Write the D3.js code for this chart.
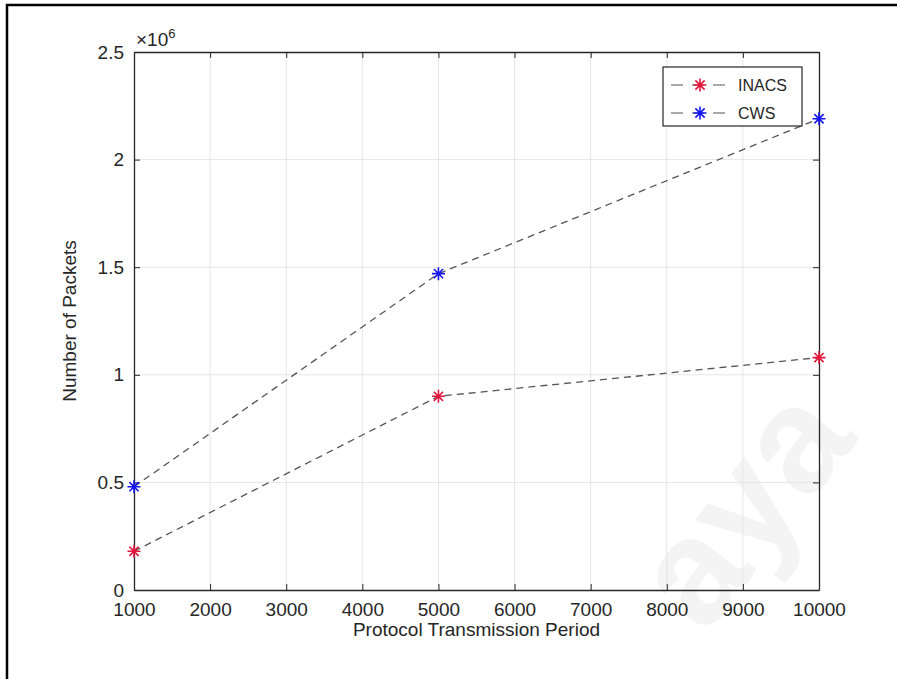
<!DOCTYPE html>
<html>
<head>
<meta charset="utf-8">
<script src="https://cdn.jsdelivr.net/npm/d3@7"></script>
<style>
	body { margin: 0; background: #fff; }
	text { font-family: "Liberation Sans", Arial, sans-serif; fill: #262626; }
</style>
</head>
<body>
<div id="chart"></div>
<script>
"use strict";

// values
var periods = [1000, 5000, 10000];
var inacsPackets = [0.18e6, 0.90e6, 1.08e6];
var cwsPackets = [0.48e6, 1.47e6, 2.19e6];
var seriesNames = ["INACS", "CWS"];
var xTickValues = [1000, 2000, 3000, 4000, 5000, 6000, 7000, 8000, 9000, 10000];
var yTickValues = [0, 0.5e6, 1e6, 1.5e6, 2e6, 2.5e6];

var series = [
	{ id: seriesNames[0], values: inacsPackets, color: "#e3173e" },
	{ id: seriesNames[1], values: cwsPackets, color: "#1414f0" }
];

var svg = d3.select("#chart").append("svg")
	.attr("width", 897).attr("height", 679);

// faint watermark in the lower right, as in the scan
svg.append("text")
	.attr("transform", "translate(705,636) rotate(-52)")
	.style("font-size", "150px")
	.style("font-weight", "bold")
	.style("fill", "#f4f4f4")
	.text("aya");

// frame around the figure
svg.append("path")
	.attr("d", "M7,679V5H897")
	.attr("fill", "none")
	.attr("stroke", "#000")
	.attr("stroke-width", 2.5);

var margin = {top: 52, right: 78, bottom: 89, left: 134},
	width = 897 - margin.left - margin.right,
	height = 679 - margin.top - margin.bottom,
	g = svg.append("g").attr("transform", "translate(" + margin.left + "," + margin.top + ")");

var x = d3.scaleLinear().domain([1000, 10000]).range([0, width]),
	y = d3.scaleLinear().domain([0, 2.5e6]).range([height, 0]);

// grid
g.append("g").selectAll("line")
	.data(xTickValues.slice(1, -1))
	.enter().append("line")
	.attr("x1", function(d) { return x(d); }).attr("x2", function(d) { return x(d); })
	.attr("y1", 0).attr("y2", height)
	.attr("stroke", "#e6e6e6");

g.append("g").selectAll("line")
	.data(yTickValues.slice(1, -1))
	.enter().append("line")
	.attr("y1", function(d) { return y(d); }).attr("y2", function(d) { return y(d); })
	.attr("x1", 0).attr("x2", width)
	.attr("stroke", "#e6e6e6");

var fmtY = function(d) { return d3.format("~g")(d / 1e6); };

// axes, ticks pointing inward like matlab
g.append("g")
	.attr("class", "axis axis--x")
	.attr("transform", "translate(0," + height + ")")
	.call(d3.axisBottom(x).tickValues(xTickValues).tickSizeInner(-6).tickSizeOuter(0).tickPadding(13).tickFormat(d3.format("d")));

g.append("g")
	.attr("class", "axis axis--x2")
	.call(d3.axisTop(x).tickValues(xTickValues).tickSizeInner(-6).tickSizeOuter(0).tickFormat(""));

g.append("g")
	.attr("class", "axis axis--y")
	.call(d3.axisLeft(y).tickValues(yTickValues).tickSizeInner(-6).tickSizeOuter(0).tickPadding(10).tickFormat(fmtY));

g.append("g")
	.attr("class", "axis axis--y2")
	.attr("transform", "translate(" + width + ",0)")
	.call(d3.axisRight(y).tickValues(yTickValues).tickSizeInner(-6).tickSizeOuter(0).tickFormat(""));

g.selectAll(".axis path").attr("stroke", "#262626").attr("stroke-width", 1.3);
g.selectAll(".axis line").attr("stroke", "#262626");
g.selectAll(".axis text").style("font-size", "19px").attr("fill", "#262626").style("font-family", "Liberation Sans, Arial, sans-serif");
g.selectAll(".axis--x text").attr("dy", "0.71em");

// exponent label
var expo = g.append("text")
	.attr("x", 2).attr("y", -6)
	.style("font-size", "19px");
expo.append("tspan").text("\u00d710");
expo.append("tspan").attr("dy", -8).style("font-size", "13px").text("6");

// axis titles
g.append("text")
	.attr("x", width / 2).attr("y", height + 46)
	.attr("text-anchor", "middle")
	.style("font-size", "19px")
	.text("Protocol Transmission Period");

g.append("text")
	.attr("transform", "translate(-58," + (height / 2) + ") rotate(-90)")
	.attr("text-anchor", "middle")
	.style("font-size", "19px")
	.text("Number of Packets");

var line = d3.line()
	.x(function(d, i) { return x(periods[i]); })
	.y(function(d) { return y(d); });

function star(sel, color) {
	var r = 6.5, r2 = 4.6;
	sel.append("path")
		.attr("d", "M" + (-r) + ",0H" + r + "M0," + (-r) + "V" + r +
			"M" + (-r2) + "," + (-r2) + "L" + r2 + "," + r2 +
			"M" + (-r2) + "," + r2 + "L" + r2 + "," + (-r2))
		.attr("stroke", color)
		.attr("stroke-width", 1.6)
		.attr("fill", "none");
}

var sg = g.selectAll(".series")
	.data(series)
	.enter().append("g")
	.attr("class", "series");

sg.append("path")
	.attr("d", function(d) { return line(d.values); })
	.attr("fill", "none")
	.attr("stroke", "#555")
	.attr("stroke-width", 1.3)
	.attr("stroke-dasharray", "7,5");

sg.each(function(s) {
	d3.select(this).selectAll(".pt")
		.data(s.values)
		.enter().append("g")
		.attr("class", "pt")
		.attr("transform", function(d, i) { return "translate(" + x(periods[i]) + "," + y(d) + ")"; })
		.call(star, s.color);
});

// legend
var lg = g.append("g").attr("transform", "translate(" + (663 - margin.left) + "," + (67 - margin.top) + ")");
lg.append("rect")
	.attr("width", 139).attr("height", 59)
	.attr("fill", "#fff")
	.attr("stroke", "#262626")
	.attr("stroke-width", 1.2);

var li = lg.selectAll(".li")
	.data(series)
	.enter().append("g")
	.attr("class", "li")
	.attr("transform", function(d, i) { return "translate(0," + (18 + i * 28) + ")"; });

li.append("line")
	.attr("x1", 8).attr("x2", 70)
	.attr("stroke", "#555")
	.attr("stroke-width", 1.2)
	.attr("stroke-dasharray", "12,9");

li.each(function(s) {
	d3.select(this).append("g").attr("transform", "translate(37,0)").call(star, s.color);
});

li.append("text")
	.attr("x", 75).attr("dy", "0.35em")
	.style("font-size", "16px")
	.text(function(d) { return d.id; });
</script>
</body>
</html>
